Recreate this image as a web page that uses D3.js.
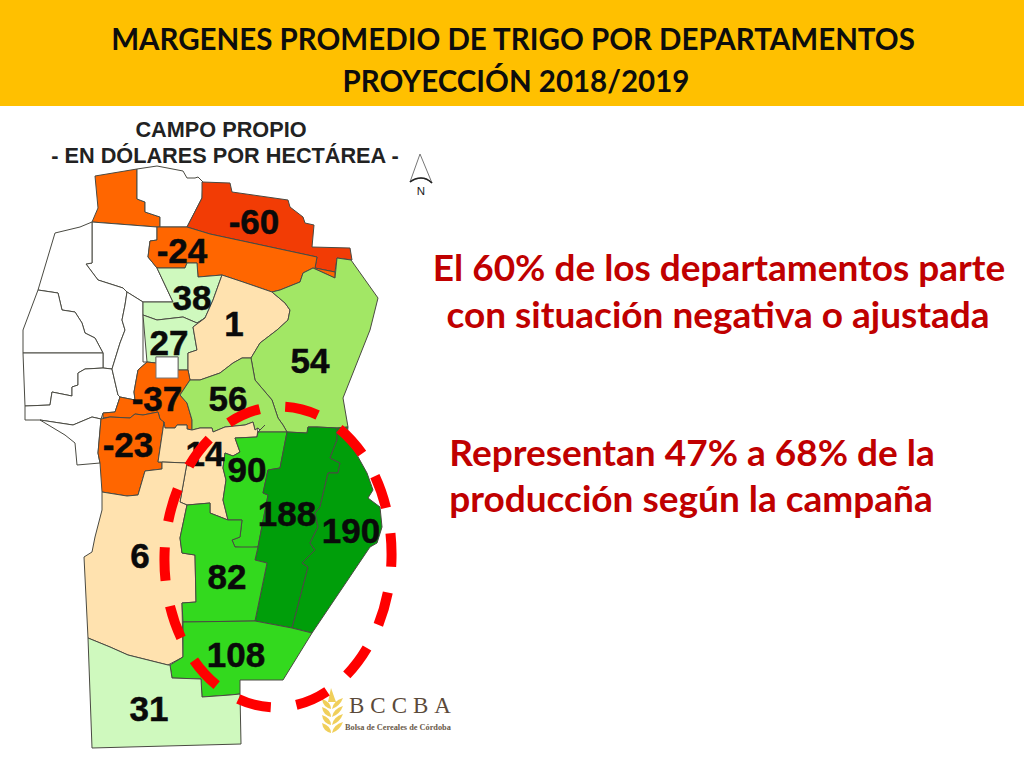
<!DOCTYPE html>
<html>
<head>
<meta charset="utf-8">
<script src="https://cdn.jsdelivr.net/npm/d3@7"></script>
<style>
  html, body { margin: 0; padding: 0; background: #fff; }
  svg { display: block; }
</style>
</head>
<body>
<script>
var W = 1024, H = 768;

// departments, values in USD/ha (null = not coloured)
var deptIds = ['nw', 'north', 'west1', 'west2', 'west3', 'west4', 'west5', 'west6', 'centre',
  'n60', 'n24', 'p38', 'p27', 'p1', 'p54', 'n37', 'p56', 'n23', 'p14', 'p90', 'p188', 'p190', 'p6', 'p82', 'p108', 'p31'];
var deptValues = [-24, null, null, null, null, null, null, null, null,
  -60, -24, 38, 27, 1, 54, -37, 56, -23, 14, 90, 188, 190, 6, 82, 108, 31];

var deptOutlines = {
  nw: [[95,176],[137,169],[137,199],[145,202],[145,212],[160,217],[160,227],[157,227],[92,222],[98,208]],
  north: [[137,169],[157,166],[183,171],[187,178],[195,178],[198,177],[203,182],[202,198],[187,227],[160,227],[160,217],[145,212],[145,202],[137,199]],
  west1: [[92,222],[157,227],[157,240],[150,241],[148,257],[157,268],[173,302],[143,302],[127,292],[123,288],[98,280],[86,264],[92,263]],
  west2: [[92,222],[92,263],[86,264],[98,280],[123,288],[127,292],[125,305],[122,320],[125,330],[120,343],[112,369],[103,368],[103,353],[95,338],[85,333],[82,323],[75,312],[62,310],[58,293],[38,290],[55,233],[80,227]],
  west3: [[38,290],[58,293],[62,310],[75,312],[82,323],[85,333],[95,338],[103,353],[23,353],[23,330]],
  west4: [[23,353],[103,353],[103,368],[85,369],[78,373],[78,385],[72,387],[72,396],[52,392],[50,405],[25,406]],
  west5: [[25,406],[50,405],[52,392],[72,396],[72,387],[78,385],[78,373],[85,369],[103,368],[112,369],[118,395],[120,397],[115,412],[103,413],[101,419],[92,417],[73,425],[40,420],[25,420]],
  west6: [[40,420],[73,425],[92,417],[101,419],[98,453],[100,463],[77,465],[75,443],[65,435]],
  centre: [[127,292],[143,302],[143,362],[147,362],[138,370],[134,392],[135,400],[120,397],[118,395],[112,369],[120,343],[125,330],[122,320],[125,305]],
  n60: [[202,182],[230,183],[232,192],[288,200],[290,207],[303,217],[305,223],[314,225],[312,247],[350,248],[352,260],[337,258],[335,272],[315,268],[317,257],[210,234],[187,227],[202,198]],
  n24: [[157,227],[187,227],[210,234],[317,257],[315,268],[335,272],[335,278],[313,268],[303,273],[300,282],[280,290],[272,292],[243,282],[222,275],[198,277],[197,263],[187,263],[185,268],[157,268],[148,257],[150,241],[157,240]],
  p38: [[157,268],[185,268],[187,263],[197,263],[198,277],[222,275],[213,300],[205,318],[197,323],[183,317],[157,320],[143,315],[143,302],[173,302]],
  p27: [[143,315],[157,320],[183,317],[197,323],[205,318],[193,327],[197,350],[188,353],[188,370],[178,370],[178,357],[156,357],[156,363],[147,362]],
  p1: [[222,275],[243,282],[272,292],[285,303],[290,310],[288,320],[277,330],[260,343],[251,358],[242,358],[233,363],[220,373],[200,380],[190,380],[188,370],[188,353],[197,350],[193,327],[205,318],[213,300]],
  p54: [[337,258],[351,260],[378,298],[370,330],[343,398],[348,427],[338,428],[317,427],[308,427],[307,433],[287,432],[283,425],[278,418],[272,400],[255,380],[251,358],[260,343],[277,330],[288,320],[290,310],[285,303],[272,292],[280,290],[300,282],[303,273],[313,268],[335,278]],
  n37: [[147,362],[156,363],[178,370],[188,370],[190,380],[180,395],[187,403],[192,420],[192,430],[187,429],[187,425],[177,425],[175,428],[165,428],[160,419],[158,412],[143,415],[135,414],[130,418],[110,417],[103,418],[103,413],[115,412],[120,397],[135,400],[134,392],[138,370]],
  p56: [[190,380],[200,380],[220,373],[233,363],[242,358],[251,358],[255,380],[272,400],[278,418],[283,425],[287,432],[258,432],[265,425],[260,430],[258,428],[255,430],[253,422],[245,425],[225,427],[213,432],[212,428],[200,428],[192,430],[192,420],[187,403],[180,395]],
  n23: [[101,419],[110,417],[130,418],[135,414],[143,415],[158,412],[160,419],[164,422],[158,462],[162,462],[162,469],[145,471],[138,495],[127,496],[102,492],[100,463],[98,453]],
  p14: [[164,422],[165,428],[175,428],[177,425],[187,425],[187,429],[192,430],[200,428],[212,428],[213,432],[225,427],[245,425],[253,422],[255,430],[258,428],[257,437],[235,438],[240,452],[233,456],[225,453],[223,468],[226,480],[223,500],[228,520],[210,513],[210,503],[187,505],[180,502],[187,463],[162,462],[158,462]],
  p90: [[235,438],[257,437],[258,432],[287,432],[280,468],[268,470],[263,493],[268,495],[258,547],[247,548],[235,547],[232,540],[240,537],[242,520],[228,520],[223,500],[226,480],[223,468],[225,453],[233,456],[240,452]],
  p188: [[287,432],[307,433],[308,427],[317,427],[337,428],[337,440],[330,458],[340,463],[338,473],[328,473],[320,507],[315,513],[318,527],[310,543],[315,550],[302,563],[308,567],[295,617],[292,628],[255,621],[267,563],[255,560],[258,547],[268,495],[263,493],[268,470],[280,468]],
  p190: [[337,428],[348,427],[347,437],[367,473],[373,490],[368,498],[380,507],[382,527],[377,543],[370,547],[312,633],[292,628],[295,617],[308,567],[302,563],[315,550],[310,543],[318,527],[315,513],[320,507],[328,473],[338,473],[340,463],[330,458],[337,440]],
  p6: [[102,492],[127,496],[138,495],[145,471],[162,469],[162,462],[187,463],[180,502],[187,505],[180,538],[182,553],[195,555],[196,602],[182,603],[183,657],[168,665],[128,655],[110,647],[88,638],[84,557],[92,552],[95,537],[102,510]],
  p82: [[187,505],[210,503],[210,513],[228,520],[242,520],[240,537],[232,540],[235,547],[258,547],[255,560],[267,563],[255,621],[183,622],[182,603],[196,602],[195,555],[182,553],[180,538]],
  p108: [[183,622],[255,621],[292,628],[312,633],[283,680],[240,680],[240,694],[230,695],[202,697],[201,679],[172,678],[170,665],[183,657]],
  p31: [[88,638],[110,647],[128,655],[168,665],[170,665],[172,678],[201,679],[202,697],[230,695],[240,694],[241,744],[92,748]]
};

// printed number and where it sits on the map
var labelIds = ['n60', 'n24', 'p38', 'p27', 'p1', 'p54', 'n37', 'p56', 'n23', 'p14', 'p90', 'p188', 'p190', 'p6', 'p82', 'p108', 'p31'];
var labelAnchors = [[254,234],[182,263],[192,310],[169,355],[234,336],[310,373],[157,411],[228,411],[128,457],[205,466],[247,482],[287,526],[351,543],[140,568],[227,589],[236,667],[149,721]];

var classBreaks = [-50, 0, 20, 50, 70, 150];
var classColors = ['#f23c05', '#ff6600', '#ffe2af', '#cff9be', '#a2e765', '#33d91e', '#009e0a'];

var titleLines = ['MARGENES PROMEDIO DE TRIGO POR DEPARTAMENTOS', 'PROYECCIÓN 2018/2019'];
var mapHeading = ['CAMPO PROPIO', '- EN DÓLARES POR HECTÁREA -'];
var noteLines = [
  { text: 'El 60% de los departamentos parte', x: 719, y: 281 },
  { text: 'con situación negativa o ajustada', x: 718, y: 328 },
  { text: 'Representan 47% a 68% de la', x: 692, y: 466 },
  { text: 'producción según la campaña', x: 691, y: 512 }
];

var color = d3.scaleThreshold().domain(classBreaks).range(classColors);

var svg = d3.select('body').append('svg')
  .attr('width', W)
  .attr('height', H);

svg.append('rect').attr('width', W).attr('height', H).attr('fill', '#fff');

// title band
svg.append('rect')
  .attr('width', W)
  .attr('height', 106)
  .attr('fill', '#ffc000');

svg.append('g').selectAll('text')
    .data(titleLines)
  .enter().append('text')
    .attr('x', function(d, i) { return i ? 516 : 513; })
    .attr('y', function(d, i) { return 50 + i * 42; })
    .attr('text-anchor', 'middle')
    .style('font-family', 'Lato')
    .style('font-weight', 700)
    .style('font-size', '29.5px')
    .style('fill', '#0d0d0d')
    .text(function(d) { return d; });

// outlines are already in picture pixels, so the projection stays neutral
var features = deptIds.map(function(id, i) {
  return {
    type: 'Feature',
    properties: { id: id, value: deptValues[i] },
    geometry: { type: 'Polygon', coordinates: [deptOutlines[id].concat([deptOutlines[id][0]]).reverse()] }
  };
});
var path = d3.geoPath(d3.geoIdentity());

svg.append('g').selectAll('path')
    .data(features)
  .enter().append('path')
    .attr('d', path)
    .attr('fill', function(d) { return d.properties.value === null ? '#fff' : color(d.properties.value); })
    .attr('stroke', '#4a4a42')
    .attr('stroke-width', 1)
    .attr('stroke-linejoin', 'round');

// white square of the capital
svg.append('rect')
  .attr('x', 156).attr('y', 357)
  .attr('width', 22).attr('height', 21)
  .attr('fill', '#fff')
  .attr('stroke', '#777')
  .attr('stroke-width', 1);

svg.append('g').selectAll('text')
    .data(labelIds)
  .enter().append('text')
    .attr('x', function(d, i) { return labelAnchors[i][0]; })
    .attr('y', function(d, i) { return labelAnchors[i][1]; })
    .attr('text-anchor', 'middle')
    .style('font-family', 'Liberation Sans')
    .style('font-weight', 700)
    .style('font-size', '35px')
    .style('fill', '#0a0a0a')
    .style('stroke', '#0a0a0a')
    .style('stroke-width', 0.5)
    .text(function(d) { return deptValues[deptIds.indexOf(d)]; });

// map heading
svg.append('g').selectAll('text')
    .data(mapHeading)
  .enter().append('text')
    .attr('x', function(d, i) { return i ? 225 : 221; })
    .attr('y', function(d, i) { return 137 + i * 26; })
    .attr('text-anchor', 'middle')
    .style('font-family', 'Liberation Sans')
    .style('font-weight', 700)
    .style('font-size', '21.7px')
    .style('fill', '#222')
    .text(function(d) { return d; });

// north arrow
svg.append('path')
  .attr('d', 'M420,154 L432,183 Q427,178 421,178 Q415,178 410,182 Z')
  .attr('fill', '#fff')
  .attr('stroke', '#777')
  .attr('stroke-width', 1);
svg.append('path')
  .attr('d', 'M410,182 Q415,178 421,178 Q427,178 432,183')
  .attr('fill', 'none')
  .attr('stroke', '#222')
  .attr('stroke-width', 1.5);
svg.append('text')
  .attr('x', 421).attr('y', 195)
  .attr('text-anchor', 'middle')
  .style('font-family', 'Liberation Sans')
  .style('font-size', '11.5px')
  .style('fill', '#222')
  .text('N');

// logo goes under the ellipse
var logo = svg.append('g');
[0, 1, 2, 3].forEach(function(i) {
  var y = 703 + i * 8;
  logo.append('path')
    .attr('d', 'M331,' + (y + 6) + ' Q323,' + (y + 4) + ' 322,' + (y - 4) + ' Q331,' + (y - 1) + ' 331,' + (y + 6) + ' Z')
    .attr('fill', '#f0cf5a');
  logo.append('path')
    .attr('d', 'M332,' + (y + 6) + ' Q340,' + (y + 3) + ' 343,' + (y - 5) + ' Q333,' + (y - 2) + ' 332,' + (y + 6) + ' Z')
    .attr('fill', '#f0cf5a');
});
logo.append('path').attr('d', 'M331,688 L336,702 L328,702 Z').attr('fill', '#f0cf5a');
logo.append('text')
  .attr('x', 349).attr('y', 713)
  .style('font-family', 'Liberation Serif')
  .style('font-size', '23px')
  .style('letter-spacing', '6px')
  .style('fill', '#5b4a3a')
  .text('BCCBA');
logo.append('text')
  .attr('x', 345).attr('y', 730)
  .style('font-family', 'Liberation Serif')
  .style('font-weight', 700)
  .style('font-size', '8.3px')
  .style('fill', '#6b5b4a')
  .text('Bolsa de Cereales de Córdoba');

// red dashed ellipse: 14 dashes around
svg.append('ellipse')
  .attr('cx', 278).attr('cy', 557)
  .attr('rx', 113.5).attr('ry', 150.5)
  .attr('transform', 'rotate(2 278 557)')
  .attr('fill', 'none')
  .attr('stroke', '#ff0000')
  .attr('stroke-width', 10)
  .attr('pathLength', 840)
  .attr('stroke-dasharray', '34 26')
  .attr('stroke-dashoffset', 28);

// notes
svg.append('g').selectAll('text')
    .data(noteLines)
  .enter().append('text')
    .attr('x', function(d) { return d.x; })
    .attr('y', function(d) { return d.y; })
    .attr('text-anchor', 'middle')
    .style('font-family', 'Lato')
    .style('font-weight', 700)
    .style('font-size', '37px')
    .style('fill', '#c00000')
    .text(function(d) { return d.text; });
</script>
</body>
</html>
